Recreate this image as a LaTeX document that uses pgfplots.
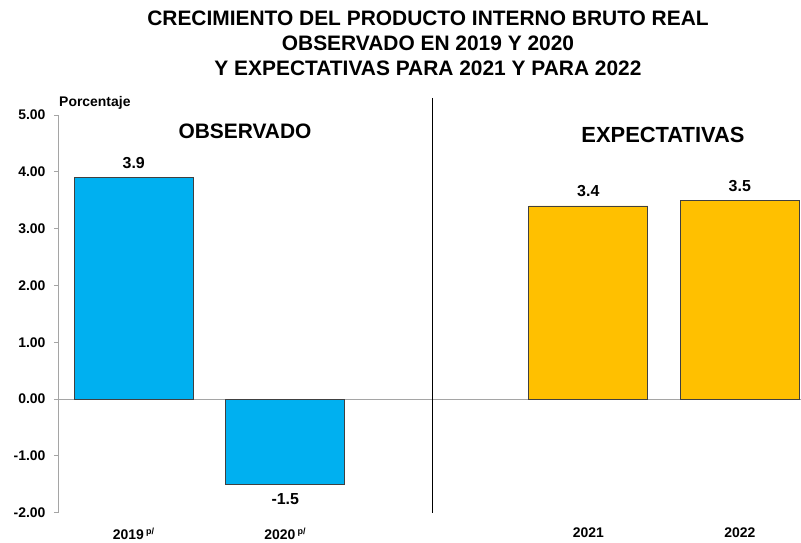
\documentclass[border=0pt]{standalone}
\usepackage{pgfplots}
\pgfplotsset{compat=1.18}
\usepackage{fontspec}
\setmainfont{Liberation Sans}
\definecolor{barblue}{RGB}{0,176,240}
\definecolor{bargold}{RGB}{255,192,0}
\definecolor{axgray}{RGB}{165,165,165}
\begin{document}
\begin{tikzpicture}
\begin{axis}[
  at={(58bp,30.3bp)}, anchor=south west,
  scale only axis, width=743bp, height=397.7bp,
  xmin=-0.5, xmax=4.404, ymin=-2, ymax=5,
  ybar, bar width=119bp,
  axis lines*=left,
  x axis line style={draw=none},
  y axis line style={axgray, line width=0.8pt},
  xtick style={draw=none},
  ytick style={axgray, line width=0.8pt},
  tick align=outside, major tick length=4bp,
  ytick={-2,-1,0,1,2,3,4,5},
  yticklabel style={font=\bfseries\fontsize{14}{16}\selectfont, xshift=-5bp, /pgf/number format/.cd, fixed, fixed zerofill, precision=2, assume math mode=true},
  xtick={0,1,3,4},
  xticklabels={2019\,\textsuperscript{\fontsize{9}{9}\selectfont p/}, 2020\,\textsuperscript{\fontsize{9}{9}\selectfont p/}, 2021, 2022},
  xticklabel style={font=\bfseries\fontsize{14}{16}\selectfont, yshift=-8bp},
  nodes near coords,
  every node near coord/.append style={font=\bfseries\fontsize{16}{18}\selectfont, inner sep=8.5bp, /pgf/number format/.cd, fixed, precision=1, assume math mode=true},
  clip=false,
]
\draw[axgray, line width=0.8pt] (axis cs:-0.5,0) -- (axis cs:4.404,0);
\addplot[bar shift=0pt, fill=barblue, draw=black!75, line width=0.6pt] coordinates {(0,3.9) (1,-1.5)};
\addplot[bar shift=0pt, fill=bargold, draw=black!75, line width=0.6pt] coordinates {(3,3.4) (4,3.5)};
\draw[black, line width=0.8pt] (axis cs:1.97,5.3) -- (axis cs:1.97,-2);
\end{axis}
\node[font=\bfseries\fontsize{21}{25}\selectfont, align=center] at (428bp,500bp) {CRECIMIENTO DEL PRODUCTO INTERNO BRUTO REAL\\OBSERVADO EN 2019 Y 2020\\Y EXPECTATIVAS PARA 2021 Y PARA 2022};
\node[font=\bfseries\fontsize{14}{16}\selectfont, anchor=west, inner sep=0pt] at (59bp,440bp) {Porcentaje};
\node[font=\bfseries\fontsize{21}{24}\selectfont] at (245bp,412bp) {OBSERVADO};
\node[font=\bfseries\fontsize{22}{24}\selectfont] at (663bp,408bp) {EXPECTATIVAS};
\pgfresetboundingbox
\path[use as bounding box] (0,0) rectangle (801bp,543bp);
\end{tikzpicture}
\end{document}
